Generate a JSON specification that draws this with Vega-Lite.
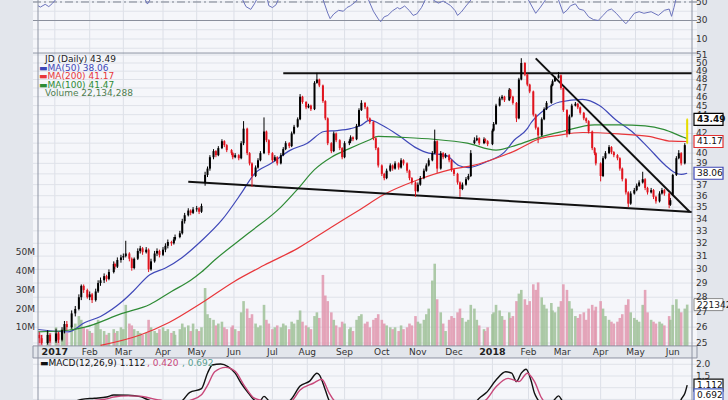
{
"$schema":"https://vega.github.io/schema/vega-lite/v6.json",
"width":664,"height":400,
"autosize":{"type":"none"},
"padding":{"left":33,"top":0,"right":31,"bottom":0},
"background":"#e3e6ec",
"config":{"view":{"fill":"#f5f6fa","stroke":null}},
"datasets":{
"mo":[{"d":"2017-01-03","t":"2017"},{"d":"2017-02-01","t":"Feb"},{"d":"2017-03-01","t":"Mar"},{"d":"2017-04-03","t":"Apr"},{"d":"2017-05-01","t":"May"},{"d":"2017-06-01","t":"Jun"},{"d":"2017-07-03","t":"Jul"},{"d":"2017-08-01","t":"Aug"},{"d":"2017-09-01","t":"Sep"},{"d":"2017-10-02","t":"Oct"},{"d":"2017-11-01","t":"Nov"},{"d":"2017-12-01","t":"Dec"},{"d":"2018-01-02","t":"2018"},{"d":"2018-02-01","t":"Feb"},{"d":"2018-03-01","t":"Mar"},{"d":"2018-04-02","t":"Apr"},{"d":"2018-05-01","t":"May"},{"d":"2018-06-01","t":"Jun"}],
"pt":[{"p":25},{"p":26},{"p":27},{"p":28},{"p":29},{"p":30},{"p":31},{"p":32},{"p":33},{"p":34},{"p":35},{"p":36},{"p":37},{"p":38},{"p":39},{"p":40},{"p":41},{"p":42},{"p":43},{"p":44},{"p":45},{"p":46},{"p":47},{"p":48},{"p":49},{"p":50},{"p":51}],
"vt":[{"v":10,"t":"10M"},{"v":20,"t":"20M"},{"v":30,"t":"30M"},{"v":40,"t":"40M"},{"v":50,"t":"50M"}],
"rg":[{"r":0},{"r":10},{"r":20},{"r":30},{"r":40},{"r":50}],
"rt":[{"r":10,"t":"10"},{"r":30,"t":"30"},{"r":50,"t":"50"}],
"mg":[{"m":0.5,"t":"0.5"},{"m":1,"t":"1.0"},{"m":1.5,"t":"1.5"},{"m":2,"t":"2.0"}],
"tl":[{"d":"2017-07-12","g":"r","p":48.75},{"d":"2018-06-17","g":"r","p":48.75},{"d":"2017-04-24","g":"s","p":37.27},{"d":"2018-06-17","g":"s","p":34.58},{"d":"2018-02-07","g":"t","p":50.58},{"d":"2018-06-15","g":"t","p":34.6}],
"lb":[{"k":"c","v":43.49},{"k":"r","v":41.17},{"k":"b","v":38.06}],
"vb":[{"v":22.134288}],
"mb":[{"k":"m","v":1.112},{"k":"h","v":0.692}],
"px":[
{"d":"2016-12-21","o":25.5,"h":25.7,"l":25.0,"c":25.3,"v":7},
{"d":"2016-12-23","o":25.3,"h":25.5,"l":24.9,"c":25.0,"v":6},
{"d":"2016-12-28","o":25.0,"h":25.8,"l":24.9,"c":25.5,"v":8},
{"d":"2016-12-30","o":25.5,"h":25.6,"l":25.0,"c":25.1,"v":7},
{"d":"2017-01-04","o":25.1,"h":25.9,"l":25.0,"c":25.6,"v":10},
{"d":"2017-01-06","o":25.6,"h":25.7,"l":25.0,"c":25.2,"v":8},
{"d":"2017-01-09","o":25.2,"h":26.0,"l":25.1,"c":25.8,"v":9},
{"d":"2017-01-11","o":25.8,"h":26.4,"l":25.6,"c":26.2,"v":10},
{"d":"2017-01-13","o":26.2,"h":26.4,"l":25.8,"c":26.0,"v":7},
{"d":"2017-01-17","o":26.0,"h":27.1,"l":25.9,"c":26.9,"v":11},
{"d":"2017-01-20","o":26.9,"h":27.4,"l":26.7,"c":27.2,"v":12},
{"d":"2017-01-23","o":27.2,"h":28.2,"l":27.1,"c":28.0,"v":16},
{"d":"2017-01-25","o":28.0,"h":28.9,"l":27.8,"c":28.8,"v":14},
{"d":"2017-01-27","o":28.8,"h":28.9,"l":28.3,"c":28.5,"v":10},
{"d":"2017-01-30","o":28.5,"h":28.6,"l":27.9,"c":28.0,"v":9},
{"d":"2017-02-01","o":28.0,"h":28.4,"l":27.8,"c":28.2,"v":8},
{"d":"2017-02-03","o":28.2,"h":28.3,"l":27.6,"c":27.8,"v":7},
{"d":"2017-02-06","o":27.8,"h":28.6,"l":27.7,"c":28.4,"v":12},
{"d":"2017-02-08","o":28.4,"h":29.2,"l":28.3,"c":29.0,"v":14},
{"d":"2017-02-10","o":29.0,"h":29.4,"l":28.8,"c":29.2,"v":9},
{"d":"2017-02-13","o":29.2,"h":29.7,"l":29.0,"c":29.5,"v":8},
{"d":"2017-02-15","o":29.5,"h":29.6,"l":29.1,"c":29.3,"v":6},
{"d":"2017-02-17","o":29.3,"h":30.0,"l":29.2,"c":29.8,"v":7},
{"d":"2017-02-21","o":29.8,"h":30.6,"l":29.7,"c":30.4,"v":9},
{"d":"2017-02-22","o":30.4,"h":30.5,"l":30.0,"c":30.2,"v":7},
{"d":"2017-02-24","o":30.2,"h":30.9,"l":30.1,"c":30.7,"v":8},
{"d":"2017-02-27","o":30.7,"h":31.1,"l":30.5,"c":30.9,"v":10},
{"d":"2017-03-01","o":30.9,"h":31.2,"l":30.7,"c":31.0,"v":9},
{"d":"2017-03-03","o":31.0,"h":32.2,"l":30.9,"c":31.2,"v":22},
{"d":"2017-03-06","o":31.2,"h":31.3,"l":30.6,"c":30.8,"v":12},
{"d":"2017-03-08","o":30.8,"h":30.9,"l":29.9,"c":30.1,"v":11},
{"d":"2017-03-10","o":30.1,"h":30.9,"l":30.0,"c":30.8,"v":9},
{"d":"2017-03-13","o":30.8,"h":31.6,"l":30.7,"c":31.4,"v":8},
{"d":"2017-03-15","o":31.4,"h":31.8,"l":31.2,"c":31.6,"v":7},
{"d":"2017-03-17","o":31.6,"h":31.7,"l":31.1,"c":31.3,"v":6},
{"d":"2017-03-20","o":31.3,"h":31.7,"l":31.2,"c":31.5,"v":7},
{"d":"2017-03-22","o":31.5,"h":31.6,"l":29.8,"c":30.0,"v":14},
{"d":"2017-03-24","o":30.0,"h":30.8,"l":29.9,"c":30.6,"v":10},
{"d":"2017-03-27","o":30.6,"h":31.4,"l":30.5,"c":31.2,"v":8},
{"d":"2017-03-29","o":31.2,"h":31.6,"l":31.0,"c":31.4,"v":7},
{"d":"2017-03-31","o":31.4,"h":31.5,"l":30.9,"c":31.1,"v":9},
{"d":"2017-04-03","o":31.1,"h":31.7,"l":31.0,"c":31.5,"v":10},
{"d":"2017-04-05","o":31.5,"h":32.0,"l":31.3,"c":31.8,"v":8},
{"d":"2017-04-07","o":31.8,"h":32.3,"l":31.6,"c":32.1,"v":9},
{"d":"2017-04-10","o":32.1,"h":32.2,"l":31.8,"c":32.0,"v":7},
{"d":"2017-04-12","o":32.0,"h":32.5,"l":31.9,"c":32.3,"v":8},
{"d":"2017-04-13","o":32.3,"h":32.7,"l":32.2,"c":32.5,"v":6},
{"d":"2017-04-17","o":32.5,"h":33.0,"l":32.4,"c":32.8,"v":9},
{"d":"2017-04-19","o":32.8,"h":34.0,"l":32.7,"c":33.8,"v":12},
{"d":"2017-04-21","o":33.8,"h":34.5,"l":33.6,"c":34.3,"v":10},
{"d":"2017-04-24","o":34.3,"h":34.9,"l":34.2,"c":34.7,"v":11},
{"d":"2017-04-26","o":34.7,"h":34.8,"l":34.3,"c":34.5,"v":8},
{"d":"2017-04-28","o":34.5,"h":35.0,"l":34.4,"c":34.8,"v":12},
{"d":"2017-05-01","o":34.8,"h":35.1,"l":34.6,"c":34.9,"v":9},
{"d":"2017-05-03","o":34.9,"h":35.0,"l":34.4,"c":34.6,"v":8},
{"d":"2017-05-05","o":34.6,"h":35.3,"l":34.5,"c":35.1,"v":10},
{"d":"2017-05-08","o":37.2,"h":38.2,"l":36.9,"c":37.9,"v":31},
{"d":"2017-05-10","o":37.9,"h":38.7,"l":37.7,"c":38.5,"v":17},
{"d":"2017-05-12","o":38.5,"h":39.8,"l":38.3,"c":39.6,"v":15},
{"d":"2017-05-15","o":39.6,"h":40.4,"l":39.4,"c":40.2,"v":14},
{"d":"2017-05-17","o":40.2,"h":40.3,"l":39.6,"c":39.8,"v":11},
{"d":"2017-05-19","o":39.8,"h":40.7,"l":39.7,"c":40.5,"v":12},
{"d":"2017-05-22","o":40.5,"h":41.4,"l":40.4,"c":41.2,"v":13},
{"d":"2017-05-24","o":41.2,"h":41.3,"l":40.6,"c":40.8,"v":10},
{"d":"2017-05-26","o":40.8,"h":40.9,"l":40.1,"c":40.3,"v":9},
{"d":"2017-05-30","o":40.3,"h":40.4,"l":39.8,"c":40.0,"v":10},
{"d":"2017-05-31","o":40.0,"h":40.1,"l":39.4,"c":39.6,"v":11},
{"d":"2017-06-02","o":39.6,"h":40.0,"l":39.5,"c":39.8,"v":9},
{"d":"2017-06-05","o":39.8,"h":39.9,"l":39.3,"c":39.5,"v":8},
{"d":"2017-06-07","o":39.5,"h":41.2,"l":39.4,"c":41.0,"v":18},
{"d":"2017-06-09","o":41.0,"h":43.3,"l":40.8,"c":42.5,"v":24},
{"d":"2017-06-12","o":42.5,"h":42.6,"l":39.8,"c":40.0,"v":20},
{"d":"2017-06-14","o":40.0,"h":40.1,"l":38.8,"c":39.0,"v":15},
{"d":"2017-06-16","o":39.0,"h":39.1,"l":36.8,"c":37.8,"v":17},
{"d":"2017-06-19","o":37.8,"h":38.8,"l":37.7,"c":38.6,"v":12},
{"d":"2017-06-21","o":38.6,"h":39.5,"l":38.5,"c":39.3,"v":10},
{"d":"2017-06-23","o":39.3,"h":40.2,"l":39.2,"c":40.0,"v":11},
{"d":"2017-06-26","o":40.0,"h":43.7,"l":39.9,"c":42.2,"v":22},
{"d":"2017-06-28","o":42.2,"h":42.3,"l":41.1,"c":41.3,"v":14},
{"d":"2017-06-30","o":41.3,"h":41.4,"l":39.8,"c":40.0,"v":12},
{"d":"2017-07-03","o":40.0,"h":40.1,"l":39.1,"c":39.3,"v":9},
{"d":"2017-07-05","o":39.3,"h":39.8,"l":39.2,"c":39.6,"v":10},
{"d":"2017-07-07","o":39.6,"h":39.7,"l":38.8,"c":39.0,"v":11},
{"d":"2017-07-10","o":39.0,"h":40.0,"l":38.9,"c":39.8,"v":10},
{"d":"2017-07-12","o":39.8,"h":40.6,"l":39.7,"c":40.4,"v":12},
{"d":"2017-07-14","o":40.4,"h":41.2,"l":40.3,"c":41.0,"v":11},
{"d":"2017-07-17","o":41.0,"h":41.1,"l":40.5,"c":40.7,"v":9},
{"d":"2017-07-19","o":40.7,"h":42.2,"l":40.6,"c":42.0,"v":13},
{"d":"2017-07-21","o":42.0,"h":42.9,"l":41.9,"c":42.7,"v":12},
{"d":"2017-07-24","o":42.7,"h":43.7,"l":42.6,"c":43.5,"v":14},
{"d":"2017-07-26","o":43.5,"h":46.3,"l":43.4,"c":46.0,"v":19},
{"d":"2017-07-28","o":46.0,"h":46.1,"l":45.2,"c":45.4,"v":13},
{"d":"2017-07-31","o":45.4,"h":45.5,"l":44.6,"c":44.8,"v":11},
{"d":"2017-08-02","o":44.8,"h":45.2,"l":44.7,"c":45.0,"v":10},
{"d":"2017-08-04","o":45.0,"h":45.1,"l":44.4,"c":44.6,"v":9},
{"d":"2017-08-07","o":44.6,"h":47.8,"l":44.5,"c":47.6,"v":16},
{"d":"2017-08-09","o":47.6,"h":48.8,"l":47.5,"c":48.0,"v":18},
{"d":"2017-08-11","o":48.0,"h":48.1,"l":47.1,"c":47.3,"v":15},
{"d":"2017-08-14","o":47.3,"h":47.4,"l":45.3,"c":45.5,"v":38},
{"d":"2017-08-16","o":45.5,"h":45.6,"l":43.4,"c":43.6,"v":27},
{"d":"2017-08-18","o":43.6,"h":43.7,"l":40.8,"c":41.0,"v":24},
{"d":"2017-08-21","o":41.0,"h":41.1,"l":40.0,"c":40.2,"v":18},
{"d":"2017-08-23","o":40.2,"h":42.2,"l":40.1,"c":42.0,"v":14},
{"d":"2017-08-25","o":42.0,"h":42.1,"l":41.1,"c":41.3,"v":11},
{"d":"2017-08-28","o":41.3,"h":41.4,"l":40.3,"c":40.5,"v":10},
{"d":"2017-08-30","o":40.5,"h":40.6,"l":39.4,"c":39.6,"v":13},
{"d":"2017-09-01","o":39.6,"h":41.2,"l":39.5,"c":41.0,"v":12},
{"d":"2017-09-05","o":41.0,"h":41.4,"l":40.8,"c":41.2,"v":9},
{"d":"2017-09-06","o":41.2,"h":41.8,"l":41.0,"c":41.6,"v":10},
{"d":"2017-09-08","o":41.6,"h":41.7,"l":41.2,"c":41.4,"v":8},
{"d":"2017-09-11","o":41.4,"h":43.0,"l":41.3,"c":42.8,"v":14},
{"d":"2017-09-13","o":42.8,"h":44.7,"l":42.7,"c":44.5,"v":16},
{"d":"2017-09-15","o":44.5,"h":45.6,"l":44.4,"c":45.3,"v":17},
{"d":"2017-09-18","o":45.3,"h":45.4,"l":44.6,"c":44.8,"v":12},
{"d":"2017-09-20","o":44.8,"h":44.9,"l":43.4,"c":43.6,"v":13},
{"d":"2017-09-22","o":43.6,"h":43.7,"l":43.0,"c":43.2,"v":10},
{"d":"2017-09-25","o":43.2,"h":43.3,"l":41.3,"c":41.5,"v":14},
{"d":"2017-09-27","o":41.5,"h":41.6,"l":40.3,"c":40.5,"v":15},
{"d":"2017-09-29","o":40.5,"h":40.6,"l":38.6,"c":38.8,"v":17},
{"d":"2017-10-02","o":38.8,"h":38.9,"l":37.8,"c":38.0,"v":14},
{"d":"2017-10-04","o":38.0,"h":38.1,"l":37.4,"c":37.6,"v":12},
{"d":"2017-10-06","o":37.6,"h":38.5,"l":37.5,"c":38.3,"v":11},
{"d":"2017-10-09","o":38.3,"h":39.0,"l":38.2,"c":38.8,"v":10},
{"d":"2017-10-11","o":38.8,"h":38.9,"l":38.3,"c":38.5,"v":9},
{"d":"2017-10-13","o":38.5,"h":39.2,"l":38.4,"c":39.0,"v":10},
{"d":"2017-10-16","o":39.0,"h":39.1,"l":38.4,"c":38.6,"v":8},
{"d":"2017-10-18","o":38.6,"h":39.5,"l":38.5,"c":39.3,"v":11},
{"d":"2017-10-20","o":39.3,"h":39.4,"l":38.8,"c":39.0,"v":9},
{"d":"2017-10-23","o":39.0,"h":39.1,"l":38.1,"c":38.3,"v":10},
{"d":"2017-10-25","o":38.3,"h":38.4,"l":37.4,"c":37.6,"v":12},
{"d":"2017-10-27","o":37.6,"h":37.7,"l":37.0,"c":37.2,"v":11},
{"d":"2017-10-30","o":37.2,"h":37.3,"l":35.9,"c":36.4,"v":16},
{"d":"2017-11-01","o":36.4,"h":37.2,"l":36.3,"c":37.0,"v":13},
{"d":"2017-11-03","o":37.0,"h":37.8,"l":36.9,"c":37.6,"v":12},
{"d":"2017-11-06","o":37.6,"h":38.5,"l":37.5,"c":38.3,"v":14},
{"d":"2017-11-08","o":38.3,"h":39.0,"l":38.2,"c":38.8,"v":17},
{"d":"2017-11-10","o":38.8,"h":39.5,"l":38.7,"c":39.3,"v":20},
{"d":"2017-11-13","o":39.3,"h":40.2,"l":39.2,"c":40.0,"v":35},
{"d":"2017-11-15","o":40.0,"h":42.4,"l":39.9,"c":41.2,"v":44},
{"d":"2017-11-17","o":41.2,"h":41.3,"l":38.1,"c":38.5,"v":25},
{"d":"2017-11-20","o":38.5,"h":40.2,"l":38.4,"c":40.0,"v":18},
{"d":"2017-11-22","o":40.0,"h":40.1,"l":39.4,"c":39.6,"v":12},
{"d":"2017-11-24","o":39.6,"h":40.0,"l":39.5,"c":39.8,"v":8},
{"d":"2017-11-27","o":39.8,"h":39.9,"l":39.1,"c":39.3,"v":14},
{"d":"2017-11-29","o":39.3,"h":39.4,"l":38.2,"c":38.4,"v":16},
{"d":"2017-12-01","o":38.4,"h":38.5,"l":37.8,"c":38.0,"v":15},
{"d":"2017-12-04","o":38.0,"h":38.1,"l":37.0,"c":37.2,"v":18},
{"d":"2017-12-06","o":37.2,"h":37.3,"l":35.9,"c":36.6,"v":20},
{"d":"2017-12-08","o":36.6,"h":37.2,"l":36.5,"c":37.0,"v":15},
{"d":"2017-12-11","o":37.0,"h":37.7,"l":36.9,"c":37.5,"v":13},
{"d":"2017-12-13","o":37.5,"h":38.0,"l":37.4,"c":37.8,"v":14},
{"d":"2017-12-15","o":37.8,"h":40.3,"l":37.7,"c":40.0,"v":22},
{"d":"2017-12-18","o":41.0,"h":41.6,"l":40.9,"c":41.3,"v":20},
{"d":"2017-12-20","o":41.3,"h":41.8,"l":41.2,"c":41.5,"v":14},
{"d":"2017-12-22","o":41.5,"h":41.6,"l":40.8,"c":41.0,"v":11},
{"d":"2017-12-26","o":41.0,"h":41.6,"l":40.9,"c":41.4,"v":9},
{"d":"2017-12-27","o":41.4,"h":41.5,"l":41.0,"c":41.2,"v":8},
{"d":"2017-12-29","o":41.2,"h":41.3,"l":40.7,"c":40.9,"v":10},
{"d":"2018-01-02","o":40.9,"h":42.5,"l":40.8,"c":42.3,"v":17},
{"d":"2018-01-03","o":42.3,"h":43.2,"l":42.2,"c":43.0,"v":18},
{"d":"2018-01-05","o":43.0,"h":45.2,"l":42.9,"c":45.0,"v":22},
{"d":"2018-01-08","o":45.0,"h":46.0,"l":44.9,"c":45.8,"v":19},
{"d":"2018-01-10","o":45.8,"h":46.2,"l":45.6,"c":46.0,"v":16},
{"d":"2018-01-12","o":46.0,"h":46.1,"l":45.4,"c":45.6,"v":14},
{"d":"2018-01-16","o":45.6,"h":47.0,"l":45.5,"c":46.8,"v":18},
{"d":"2018-01-17","o":46.8,"h":46.9,"l":45.8,"c":46.0,"v":15},
{"d":"2018-01-19","o":46.0,"h":46.1,"l":45.1,"c":45.3,"v":16},
{"d":"2018-01-22","o":45.3,"h":45.4,"l":43.2,"c":43.6,"v":24},
{"d":"2018-01-24","o":43.6,"h":48.2,"l":43.5,"c":48.0,"v":28},
{"d":"2018-01-26","o":48.0,"h":50.6,"l":47.9,"c":50.0,"v":30},
{"d":"2018-01-29","o":50.0,"h":50.1,"l":48.4,"c":48.6,"v":25},
{"d":"2018-01-31","o":48.6,"h":48.7,"l":47.2,"c":47.4,"v":22},
{"d":"2018-02-02","o":47.4,"h":47.5,"l":46.4,"c":46.6,"v":24},
{"d":"2018-02-05","o":46.6,"h":46.7,"l":43.8,"c":44.0,"v":33},
{"d":"2018-02-07","o":44.0,"h":44.1,"l":42.4,"c":42.6,"v":30},
{"d":"2018-02-09","o":42.6,"h":42.7,"l":41.0,"c":41.8,"v":34},
{"d":"2018-02-12","o":41.8,"h":43.7,"l":41.7,"c":43.5,"v":26},
{"d":"2018-02-14","o":43.5,"h":44.8,"l":43.4,"c":44.6,"v":22},
{"d":"2018-02-16","o":44.6,"h":45.5,"l":44.5,"c":45.3,"v":20},
{"d":"2018-02-20","o":45.3,"h":47.5,"l":45.2,"c":47.3,"v":23},
{"d":"2018-02-21","o":47.3,"h":48.0,"l":47.2,"c":47.8,"v":19},
{"d":"2018-02-23","o":47.8,"h":48.4,"l":47.7,"c":48.2,"v":18},
{"d":"2018-02-26","o":48.2,"h":48.9,"l":48.1,"c":48.5,"v":21},
{"d":"2018-02-28","o":48.5,"h":48.6,"l":46.8,"c":47.0,"v":24},
{"d":"2018-03-02","o":47.0,"h":47.1,"l":44.3,"c":44.5,"v":33},
{"d":"2018-03-05","o":44.5,"h":44.6,"l":41.6,"c":42.0,"v":30},
{"d":"2018-03-07","o":42.0,"h":44.0,"l":41.9,"c":43.8,"v":24},
{"d":"2018-03-09","o":43.8,"h":45.2,"l":43.7,"c":45.0,"v":20},
{"d":"2018-03-12","o":45.0,"h":45.4,"l":44.9,"c":45.2,"v":16},
{"d":"2018-03-14","o":45.2,"h":45.3,"l":44.6,"c":44.8,"v":15},
{"d":"2018-03-16","o":44.8,"h":44.9,"l":44.0,"c":44.2,"v":17},
{"d":"2018-03-19","o":44.2,"h":44.3,"l":43.4,"c":43.6,"v":18},
{"d":"2018-03-21","o":43.6,"h":43.7,"l":43.1,"c":43.3,"v":14},
{"d":"2018-03-23","o":43.3,"h":43.4,"l":42.0,"c":42.2,"v":20},
{"d":"2018-03-26","o":42.2,"h":42.3,"l":40.3,"c":40.5,"v":22},
{"d":"2018-03-28","o":40.5,"h":40.6,"l":39.8,"c":40.0,"v":19},
{"d":"2018-03-29","o":40.0,"h":40.1,"l":38.8,"c":39.0,"v":21},
{"d":"2018-04-02","o":39.0,"h":39.1,"l":37.3,"c":37.8,"v":24},
{"d":"2018-04-04","o":37.8,"h":39.7,"l":37.7,"c":39.5,"v":20},
{"d":"2018-04-06","o":39.5,"h":40.2,"l":39.4,"c":40.0,"v":16},
{"d":"2018-04-09","o":40.0,"h":40.8,"l":39.9,"c":40.6,"v":14},
{"d":"2018-04-11","o":40.6,"h":40.7,"l":39.9,"c":40.1,"v":13},
{"d":"2018-04-13","o":40.1,"h":40.2,"l":39.6,"c":39.8,"v":12},
{"d":"2018-04-16","o":39.8,"h":39.9,"l":39.3,"c":39.5,"v":13},
{"d":"2018-04-18","o":39.5,"h":39.6,"l":38.3,"c":38.5,"v":15},
{"d":"2018-04-20","o":38.5,"h":38.6,"l":37.3,"c":37.5,"v":17},
{"d":"2018-04-23","o":37.5,"h":37.6,"l":36.1,"c":36.3,"v":22},
{"d":"2018-04-25","o":36.3,"h":36.4,"l":35.0,"c":35.3,"v":25},
{"d":"2018-04-27","o":35.3,"h":36.4,"l":35.2,"c":36.2,"v":18},
{"d":"2018-04-30","o":36.2,"h":36.7,"l":36.1,"c":36.5,"v":15},
{"d":"2018-05-02","o":36.5,"h":37.1,"l":36.4,"c":36.9,"v":14},
{"d":"2018-05-04","o":36.9,"h":37.4,"l":36.8,"c":37.2,"v":13},
{"d":"2018-05-07","o":37.2,"h":38.2,"l":37.1,"c":37.5,"v":22},
{"d":"2018-05-09","o":37.5,"h":37.6,"l":36.5,"c":36.7,"v":30},
{"d":"2018-05-11","o":36.7,"h":36.8,"l":36.1,"c":36.3,"v":18},
{"d":"2018-05-14","o":36.3,"h":36.7,"l":36.2,"c":36.5,"v":14},
{"d":"2018-05-16","o":36.5,"h":36.6,"l":35.7,"c":35.9,"v":13},
{"d":"2018-05-18","o":35.9,"h":36.0,"l":35.3,"c":35.5,"v":12},
{"d":"2018-05-21","o":35.5,"h":36.4,"l":35.4,"c":36.2,"v":13},
{"d":"2018-05-23","o":36.2,"h":36.7,"l":36.1,"c":36.5,"v":12},
{"d":"2018-05-25","o":36.5,"h":36.6,"l":36.0,"c":36.2,"v":11},
{"d":"2018-05-29","o":36.2,"h":36.3,"l":34.9,"c":35.2,"v":16},
{"d":"2018-05-30","o":35.2,"h":35.8,"l":35.1,"c":35.6,"v":14},
{"d":"2018-06-01","o":36.1,"h":38.0,"l":36.0,"c":37.9,"v":22},
{"d":"2018-06-04","o":37.9,"h":39.7,"l":37.8,"c":39.5,"v":25},
{"d":"2018-06-06","o":39.5,"h":40.3,"l":39.4,"c":40.0,"v":20},
{"d":"2018-06-08","o":40.0,"h":40.1,"l":38.8,"c":39.0,"v":18},
{"d":"2018-06-11","o":39.0,"h":41.0,"l":38.9,"c":40.8,"v":20},
{"d":"2018-06-13","o":41.0,"h":43.6,"l":40.9,"c":43.49,"v":22.13}
],
"ma":[
{"d":"2016-12-20","s":"a","v":25.85},{"d":"2017-01-14","s":"a","v":25.7},{"d":"2017-01-28","s":"a","v":26.3},{"d":"2017-02-10","s":"a","v":26.7},{"d":"2017-02-28","s":"a","v":27.7},{"d":"2017-03-09","s":"a","v":28.4},{"d":"2017-03-23","s":"a","v":29.6},{"d":"2017-04-05","s":"a","v":30.1},{"d":"2017-04-19","s":"a","v":30.9},{"d":"2017-05-05","s":"a","v":32.2},{"d":"2017-05-22","s":"a","v":33.9},{"d":"2017-06-07","s":"a","v":36.2},{"d":"2017-06-18","s":"a","v":38.0},{"d":"2017-07-02","s":"a","v":39.0},{"d":"2017-07-18","s":"a","v":40.3},{"d":"2017-08-01","s":"a","v":41.0},{"d":"2017-08-15","s":"a","v":42.2},{"d":"2017-08-26","s":"a","v":42.3},{"d":"2017-09-06","s":"a","v":42.5},{"d":"2017-09-14","s":"a","v":42.8},{"d":"2017-09-22","s":"a","v":43.4},{"d":"2017-10-03","s":"a","v":42.8},{"d":"2017-10-17","s":"a","v":41.7},{"d":"2017-10-31","s":"a","v":40.5},{"d":"2017-11-10","s":"a","v":40.0},{"d":"2017-11-24","s":"a","v":39.8},{"d":"2017-12-05","s":"a","v":38.8},{"d":"2017-12-13","s":"a","v":38.6},{"d":"2017-12-29","s":"a","v":39.2},{"d":"2018-01-12","s":"a","v":40.1},{"d":"2018-01-20","s":"a","v":41.3},{"d":"2018-01-31","s":"a","v":42.5},{"d":"2018-02-03","s":"a","v":43.1},{"d":"2018-02-14","s":"a","v":44.5},{"d":"2018-02-27","s":"a","v":45.4},{"d":"2018-03-18","s":"a","v":45.7},{"d":"2018-04-01","s":"a","v":45.0},{"d":"2018-04-15","s":"a","v":43.4},{"d":"2018-04-28","s":"a","v":42.2},{"d":"2018-05-12","s":"a","v":40.5},{"d":"2018-05-26","s":"a","v":38.8},{"d":"2018-06-03","s":"a","v":38.1},{"d":"2018-06-08","s":"a","v":37.95},{"d":"2018-06-13","s":"a","v":38.06},
{"d":"2016-12-20","s":"b","v":25.7},{"d":"2017-01-14","s":"b","v":25.8},{"d":"2017-01-28","s":"b","v":26.0},{"d":"2017-02-28","s":"b","v":26.9},{"d":"2017-03-23","s":"b","v":27.5},{"d":"2017-04-10","s":"b","v":28.4},{"d":"2017-04-26","s":"b","v":29.2},{"d":"2017-05-05","s":"b","v":29.8},{"d":"2017-05-16","s":"b","v":30.7},{"d":"2017-06-13","s":"b","v":32.8},{"d":"2017-07-10","s":"b","v":35.0},{"d":"2017-07-24","s":"b","v":36.6},{"d":"2017-08-07","s":"b","v":38.4},{"d":"2017-08-21","s":"b","v":39.6},{"d":"2017-09-04","s":"b","v":40.4},{"d":"2017-09-21","s":"b","v":41.3},{"d":"2017-09-29","s":"b","v":41.7},{"d":"2017-10-18","s":"b","v":41.6},{"d":"2017-11-14","s":"b","v":41.4},{"d":"2017-12-12","s":"b","v":41.0},{"d":"2018-01-05","s":"b","v":40.3},{"d":"2018-01-22","s":"b","v":40.8},{"d":"2018-02-10","s":"b","v":41.6},{"d":"2018-03-01","s":"b","v":42.2},{"d":"2018-03-28","s":"b","v":42.9},{"d":"2018-04-17","s":"b","v":42.9},{"d":"2018-05-09","s":"b","v":42.8},{"d":"2018-05-25","s":"b","v":42.4},{"d":"2018-06-10","s":"b","v":41.6},{"d":"2018-06-13","s":"b","v":41.47},
{"d":"2017-02-10","s":"c","v":24.85},{"d":"2017-03-15","s":"c","v":25.5},{"d":"2017-04-08","s":"c","v":26.3},{"d":"2017-05-05","s":"c","v":27.6},{"d":"2017-06-01","s":"c","v":29.1},{"d":"2017-06-26","s":"c","v":30.3},{"d":"2017-07-24","s":"c","v":31.6},{"d":"2017-08-21","s":"c","v":33.3},{"d":"2017-09-14","s":"c","v":34.8},{"d":"2017-10-03","s":"c","v":36.06},{"d":"2017-10-31","s":"c","v":37.4},{"d":"2017-11-28","s":"c","v":38.4},{"d":"2017-12-17","s":"c","v":38.8},{"d":"2018-01-05","s":"c","v":39.5},{"d":"2018-01-22","s":"c","v":40.3},{"d":"2018-02-02","s":"c","v":41.0},{"d":"2018-02-07","s":"c","v":41.3},{"d":"2018-02-26","s":"c","v":41.8},{"d":"2018-03-18","s":"c","v":42.1},{"d":"2018-04-17","s":"c","v":41.95},{"d":"2018-05-12","s":"c","v":41.7},{"d":"2018-05-31","s":"c","v":41.2},{"d":"2018-06-13","s":"c","v":41.17}
],
"rsi":[
{"d":"2016-12-20","r":46},{"d":"2016-12-22","r":44.5},{"d":"2016-12-26","r":47.5},{"d":"2016-12-29","r":45},{"d":"2017-01-01","r":48.5},{"d":"2017-01-04","r":53},{"d":"2017-01-08","r":60},{"d":"2017-02-01","r":70},{"d":"2017-03-01","r":66},{"d":"2017-03-15","r":58},{"d":"2017-03-19","r":53},{"d":"2017-03-21","r":47.8},{"d":"2017-03-24","r":54},{"d":"2017-04-05","r":60},{"d":"2017-04-25","r":70},{"d":"2017-05-10","r":78},{"d":"2017-06-05","r":60},{"d":"2017-06-08","r":53},{"d":"2017-06-11","r":45},{"d":"2017-06-15","r":42},{"d":"2017-06-18","r":48},{"d":"2017-06-20","r":53},{"d":"2017-06-24","r":58},{"d":"2017-06-29","r":52},{"d":"2017-06-30","r":46},{"d":"2017-07-03","r":44},{"d":"2017-07-06","r":47},{"d":"2017-07-08","r":53},{"d":"2017-07-20","r":62},{"d":"2017-08-09","r":70},{"d":"2017-08-14","r":53},{"d":"2017-08-18","r":38},{"d":"2017-08-20","r":32},{"d":"2017-08-23","r":37},{"d":"2017-08-27","r":41},{"d":"2017-08-31","r":40},{"d":"2017-09-03","r":44},{"d":"2017-09-06","r":46},{"d":"2017-09-10","r":50},{"d":"2017-09-12","r":53},{"d":"2017-09-15","r":58},{"d":"2017-09-19","r":56},{"d":"2017-09-21","r":52},{"d":"2017-09-25","r":40},{"d":"2017-09-29","r":31.7},{"d":"2017-10-01","r":28.7},{"d":"2017-10-04","r":34},{"d":"2017-10-07","r":35.5},{"d":"2017-10-11","r":40.6},{"d":"2017-10-15","r":44},{"d":"2017-10-17","r":42.4},{"d":"2017-10-21","r":45.7},{"d":"2017-10-25","r":40.6},{"d":"2017-10-28","r":35.5},{"d":"2017-10-31","r":37},{"d":"2017-11-04","r":44},{"d":"2017-11-07","r":52},{"d":"2017-11-10","r":56},{"d":"2017-11-14","r":52},{"d":"2017-11-18","r":48.8},{"d":"2017-11-22","r":51},{"d":"2017-11-28","r":46.3},{"d":"2017-12-02","r":40.6},{"d":"2017-12-04","r":35.5},{"d":"2017-12-07","r":39},{"d":"2017-12-11","r":45.7},{"d":"2017-12-15","r":52},{"d":"2017-12-20","r":62},{"d":"2018-01-10","r":70},{"d":"2018-01-26","r":72},{"d":"2018-02-01","r":52},{"d":"2018-02-07","r":37.8},{"d":"2018-02-11","r":44.5},{"d":"2018-02-15","r":52},{"d":"2018-02-21","r":60},{"d":"2018-02-26","r":52},{"d":"2018-03-02","r":37.8},{"d":"2018-03-05","r":41},{"d":"2018-03-08","r":46},{"d":"2018-03-12","r":48},{"d":"2018-03-15","r":42.4},{"d":"2018-03-19","r":41},{"d":"2018-03-23","r":34},{"d":"2018-03-27","r":31},{"d":"2018-03-31","r":30},{"d":"2018-04-04","r":35.5},{"d":"2018-04-08","r":41},{"d":"2018-04-11","r":42.4},{"d":"2018-04-15","r":37.8},{"d":"2018-04-19","r":32},{"d":"2018-04-23","r":26.5},{"d":"2018-04-26","r":31},{"d":"2018-04-30","r":37.8},{"d":"2018-05-04","r":39.5},{"d":"2018-05-08","r":37.8},{"d":"2018-05-14","r":39.5},{"d":"2018-05-20","r":35.5},{"d":"2018-05-25","r":41},{"d":"2018-05-29","r":42.4},{"d":"2018-05-31","r":34.5},{"d":"2018-06-02","r":44},{"d":"2018-06-04","r":55},{"d":"2018-06-13","r":68}
],
"macd":[
{"d":"2016-12-20","s":"m","v":-0.3},{"d":"2017-01-11","s":"m","v":0.2},{"d":"2017-01-25","s":"m","v":0.5},{"d":"2017-02-05","s":"m","v":0.55},{"d":"2017-02-15","s":"m","v":0.6},{"d":"2017-02-21","s":"m","v":0.69},{"d":"2017-03-05","s":"m","v":0.68},{"d":"2017-03-15","s":"m","v":0.62},{"d":"2017-03-21","s":"m","v":0.5},{"d":"2017-03-30","s":"m","v":0.35},{"d":"2017-04-11","s":"m","v":0.3},{"d":"2017-04-19","s":"m","v":0.45},{"d":"2017-04-25","s":"m","v":0.79},{"d":"2017-05-05","s":"m","v":0.96},{"d":"2017-05-10","s":"m","v":1.62},{"d":"2017-05-14","s":"m","v":1.97},{"d":"2017-05-21","s":"m","v":2.01},{"d":"2017-05-27","s":"m","v":1.9},{"d":"2017-06-02","s":"m","v":1.62},{"d":"2017-06-07","s":"m","v":1.19},{"d":"2017-06-13","s":"m","v":0.77},{"d":"2017-06-18","s":"m","v":0.47},{"d":"2017-06-22","s":"m","v":0.4},{"d":"2017-06-26","s":"m","v":0.63},{"d":"2017-06-30","s":"m","v":0.45},{"d":"2017-07-10","s":"m","v":0.3},{"d":"2017-07-18","s":"m","v":0.47},{"d":"2017-07-26","s":"m","v":1.07},{"d":"2017-08-03","s":"m","v":1.28},{"d":"2017-08-09","s":"m","v":1.62},{"d":"2017-08-11","s":"m","v":1.55},{"d":"2017-08-16","s":"m","v":0.9},{"d":"2017-08-19","s":"m","v":0.47},{"d":"2017-08-24","s":"m","v":0.2},{"d":"2017-09-10","s":"m","v":-0.2},{"d":"2017-10-15","s":"m","v":-0.8},{"d":"2017-11-15","s":"m","v":-0.5},{"d":"2017-12-10","s":"m","v":-0.2},{"d":"2017-12-22","s":"m","v":0.55},{"d":"2017-12-28","s":"m","v":0.79},{"d":"2018-01-05","s":"m","v":1.33},{"d":"2018-01-13","s":"m","v":1.68},{"d":"2018-01-18","s":"m","v":1.62},{"d":"2018-01-22","s":"m","v":1.26},{"d":"2018-01-26","s":"m","v":1.62},{"d":"2018-01-30","s":"m","v":1.79},{"d":"2018-02-03","s":"m","v":1.33},{"d":"2018-02-06","s":"m","v":0.76},{"d":"2018-02-09","s":"m","v":0.47},{"d":"2018-02-12","s":"m","v":0.2},{"d":"2018-02-19","s":"m","v":0.3},{"d":"2018-02-22","s":"m","v":0.45},{"d":"2018-02-26","s":"m","v":0.65},{"d":"2018-03-01","s":"m","v":0.45},{"d":"2018-03-06","s":"m","v":0.2},{"d":"2018-04-05","s":"m","v":-0.8},{"d":"2018-05-05","s":"m","v":-1.0},{"d":"2018-05-30","s":"m","v":-0.6},{"d":"2018-06-06","s":"m","v":0.2},{"d":"2018-06-08","s":"m","v":0.5},{"d":"2018-06-11","s":"m","v":0.75},{"d":"2018-06-13","s":"m","v":1.112},
{"d":"2016-12-20","s":"g","v":-0.3},{"d":"2017-01-11","s":"g","v":0.0},{"d":"2017-01-25","s":"g","v":0.35},{"d":"2017-02-05","s":"g","v":0.45},{"d":"2017-02-15","s":"g","v":0.52},{"d":"2017-02-21","s":"g","v":0.6},{"d":"2017-03-05","s":"g","v":0.65},{"d":"2017-03-15","s":"g","v":0.64},{"d":"2017-03-21","s":"g","v":0.58},{"d":"2017-03-30","s":"g","v":0.48},{"d":"2017-04-11","s":"g","v":0.38},{"d":"2017-04-19","s":"g","v":0.36},{"d":"2017-04-25","s":"g","v":0.45},{"d":"2017-05-05","s":"g","v":0.7},{"d":"2017-05-10","s":"g","v":1.1},{"d":"2017-05-16","s":"g","v":1.68},{"d":"2017-05-25","s":"g","v":1.87},{"d":"2017-06-02","s":"g","v":1.7},{"d":"2017-06-10","s":"g","v":1.06},{"d":"2017-06-18","s":"g","v":0.55},{"d":"2017-06-25","s":"g","v":0.45},{"d":"2017-07-07","s":"g","v":0.35},{"d":"2017-07-18","s":"g","v":0.4},{"d":"2017-07-26","s":"g","v":0.9},{"d":"2017-08-06","s":"g","v":1.19},{"d":"2017-08-13","s":"g","v":1.36},{"d":"2017-08-19","s":"g","v":0.79},{"d":"2017-08-23","s":"g","v":0.47},{"d":"2017-08-29","s":"g","v":0.3},{"d":"2017-09-15","s":"g","v":-0.1},{"d":"2017-10-20","s":"g","v":-0.6},{"d":"2017-11-20","s":"g","v":-0.4},{"d":"2017-12-15","s":"g","v":0.0},{"d":"2017-12-22","s":"g","v":0.3},{"d":"2017-12-28","s":"g","v":0.5},{"d":"2018-01-05","s":"g","v":1.04},{"d":"2018-01-15","s":"g","v":1.4},{"d":"2018-01-24","s":"g","v":1.26},{"d":"2018-01-31","s":"g","v":1.62},{"d":"2018-02-06","s":"g","v":1.26},{"d":"2018-02-12","s":"g","v":0.55},{"d":"2018-02-17","s":"g","v":0.3},{"d":"2018-02-26","s":"g","v":0.4},{"d":"2018-03-06","s":"g","v":0.3},{"d":"2018-04-05","s":"g","v":-0.5},{"d":"2018-05-05","s":"g","v":-0.9},{"d":"2018-06-01","s":"g","v":-0.3},{"d":"2018-06-13","s":"g","v":0.42}
]
},
"resolve":{"scale":{"y":"independent"},"axis":{"y":"independent"}},
"layer":[
 {"data":{"name":"mo"},"mark":{"type":"rule","color":"#dcdfe7"},
  "encoding":{"x":{"field":"d","type":"temporal","scale":{"domain":[1482192000000,1529193600000]},"axis":null}}},
 {"data":{"name":"pt"},"mark":{"type":"rule","color":"#dfe2e9"},
  "encoding":{"y":{"field":"p","type":"quantitative","scale":{"type":"log","domain":[21.71,58.44],"nice":false},"axis":null}}},
 {"data":{"name":"rg"},"mark":{"type":"rule","color":"#dfe2e9"},
  "encoding":{"y":{"field":"r","type":"quantitative","scale":{"domain":[-380.27,52.16],"nice":false,"zero":false},"axis":null}}},
 {"data":{"name":"mg"},"mark":{"type":"rule","color":"#dfe2e9"},
  "encoding":{"y":{"field":"m","type":"quantitative","scale":{"domain":[0.474,17.568],"nice":false,"zero":false},"axis":null}}},
 {"layer":[
  {"data":{"name":"px"},"mark":{"type":"bar","size":2.6,"opacity":0.85},
   "encoding":{"x":{"field":"d","type":"temporal","axis":null},
    "y":{"field":"v","type":"quantitative","scale":{"domain":[-28.88,185.03],"nice":false,"zero":false},"axis":null},
    "y2":{"datum":0},
    "color":{"condition":{"test":"datum.c >= datum.o","value":"#9fc198"},"value":"#e097ae"}}},
  {"data":{"name":"vt"},"mark":{"type":"text","align":"right","baseline":"middle","dx":-3,"color":"#333333","font":"DejaVu Sans","fontSize":9},
   "encoding":{"x":{"datum":1482192000000,"type":"temporal","axis":null},
    "y":{"field":"v","type":"quantitative","scale":{"domain":[-28.88,185.03],"nice":false,"zero":false},"axis":null},"text":{"field":"t"}}},
  {"data":{"name":"vb"},"mark":{"type":"rect","fill":"#ffffff","stroke":"#8a8a8a","xOffset":2,"x2Offset":31,"yOffset":-6,"y2Offset":6},
   "encoding":{"x":{"datum":1529193600000,"type":"temporal","axis":null},"x2":{"datum":1529193600000},
    "y":{"field":"v","type":"quantitative","scale":{"domain":[-28.88,185.03],"nice":false,"zero":false},"axis":null},"y2":{"field":"v"}}},
  {"data":{"name":"vb"},"mark":{"type":"text","align":"left","baseline":"middle","dx":5,"color":"#222222","font":"DejaVu Sans","fontSize":9},
   "encoding":{"x":{"datum":1529193600000,"type":"temporal","axis":null},
    "y":{"field":"v","type":"quantitative","scale":{"domain":[-28.88,185.03],"nice":false,"zero":false},"axis":null},"text":{"value":"22134288"}}}
 ]},
 {"layer":[
  {"data":{"name":"pt"},"transform":[{"filter":"datum.p != 38 && datum.p != 41 && datum.p != 43"}],"mark":{"type":"text","align":"left","baseline":"middle","dx":4,"color":"#333333","font":"DejaVu Sans","fontSize":9},
   "encoding":{"x":{"datum":1529193600000,"type":"temporal","axis":null},
    "y":{"field":"p","type":"quantitative","scale":{"type":"log","domain":[21.71,58.44],"nice":false},"axis":null},"text":{"field":"p","type":"quantitative","format":"d"}}},
  {"data":{"values":[{}]},"mark":{"type":"rect","fill":"#e3e6ec","stroke":"#8e94a3","strokeWidth":1},
   "encoding":{"y":{"datum":24.82,"type":"quantitative","scale":{"type":"log","domain":[21.71,58.44],"nice":false},"axis":null},"y2":{"datum":24.09}}},
  {"data":{"values":[{}]},"mark":{"type":"rule","color":"#8e94a3"},
   "encoding":{"y":{"datum":51.25,"type":"quantitative","scale":{"type":"log","domain":[21.71,58.44],"nice":false},"axis":null}}},
  {"data":{"name":"ma"},"mark":{"type":"line","strokeWidth":1.2,"interpolate":"monotone"},
   "encoding":{"x":{"field":"d","type":"temporal","axis":null},
    "y":{"field":"v","type":"quantitative","scale":{"type":"log","domain":[21.71,58.44],"nice":false},"axis":null},
    "detail":{"field":"s"},
    "color":{"condition":[{"test":"datum.s=='a'","value":"#3f48b8"},{"test":"datum.s=='b'","value":"#2e8b35"}],"value":"#e8363a"}}},
  {"data":{"name":"tl"},"mark":{"type":"line","color":"#111111","strokeWidth":2},
   "encoding":{"x":{"field":"d","type":"temporal","axis":null},
    "y":{"field":"p","type":"quantitative","scale":{"type":"log","domain":[21.71,58.44],"nice":false},"axis":null},"detail":{"field":"g"}}},
  {"data":{"name":"px"},"mark":{"type":"rule","strokeWidth":1},
   "encoding":{"x":{"field":"d","type":"temporal","axis":null},
    "y":{"field":"l","type":"quantitative","scale":{"type":"log","domain":[21.71,58.44],"nice":false},"axis":null},
    "y2":{"field":"h"},
    "color":{"condition":[{"test":"datum.c == 43.49","value":"#e6dc00"},{"test":"datum.c >= datum.o","value":"#000000"}],"value":"#e0141e"}}},
  {"data":{"name":"px"},"mark":{"type":"rule","strokeWidth":2},
   "encoding":{"x":{"field":"d","type":"temporal","axis":null},
    "y":{"field":"o","type":"quantitative","scale":{"type":"log","domain":[21.71,58.44],"nice":false},"axis":null},
    "y2":{"field":"c"},
    "color":{"condition":[{"test":"datum.c == 43.49","value":"#e6dc00"},{"test":"datum.c >= datum.o","value":"#000000"}],"value":"#e0141e"}}},
  {"data":{"name":"mo"},"transform":[{"filter":"length(datum.t) != 4"}],"mark":{"type":"text","align":"center","baseline":"middle","color":"#333333","font":"DejaVu Sans","fontSize":9},
   "encoding":{"x":{"field":"d","type":"temporal","axis":null},
    "y":{"datum":24.45,"type":"quantitative","scale":{"type":"log","domain":[21.71,58.44],"nice":false},"axis":null},"text":{"field":"t"}}},
  {"data":{"name":"mo"},"transform":[{"filter":"length(datum.t) == 4"}],"mark":{"type":"text","align":"center","baseline":"middle","color":"#222222","font":"DejaVu Sans","fontSize":9.5,"fontWeight":"bold"},
   "encoding":{"x":{"field":"d","type":"temporal","axis":null},
    "y":{"datum":24.45,"type":"quantitative","scale":{"type":"log","domain":[21.71,58.44],"nice":false},"axis":null},"text":{"field":"t"}}},
  {"data":{"values":[{}]},"mark":{"type":"text","align":"left","baseline":"middle","dx":7,"color":"#222222","font":"DejaVu Sans","fontSize":9},
   "encoding":{"x":{"datum":1482192000000,"type":"temporal","axis":null},"y":{"datum":50.5,"type":"quantitative","scale":{"type":"log","domain":[21.71,58.44],"nice":false},"axis":null},"text":{"value":"JD (Daily) 43.49"}}},
  {"data":{"values":[{}]},"mark":{"type":"text","align":"left","baseline":"middle","dx":1,"color":"#3f48b8","font":"DejaVu Sans","fontSize":9},
   "encoding":{"x":{"datum":1482192000000,"type":"temporal","axis":null},"y":{"datum":49.39,"type":"quantitative","scale":{"type":"log","domain":[21.71,58.44],"nice":false},"axis":null},"text":{"value":"▬MA(50) 38.06"}}},
  {"data":{"values":[{}]},"mark":{"type":"text","align":"left","baseline":"middle","dx":1,"color":"#e8363a","font":"DejaVu Sans","fontSize":9},
   "encoding":{"x":{"datum":1482192000000,"type":"temporal","axis":null},"y":{"datum":48.36,"type":"quantitative","scale":{"type":"log","domain":[21.71,58.44],"nice":false},"axis":null},"text":{"value":"▬MA(200) 41.17"}}},
  {"data":{"values":[{}]},"mark":{"type":"text","align":"left","baseline":"middle","dx":1,"color":"#2e8b35","font":"DejaVu Sans","fontSize":9},
   "encoding":{"x":{"datum":1482192000000,"type":"temporal","axis":null},"y":{"datum":47.35,"type":"quantitative","scale":{"type":"log","domain":[21.71,58.44],"nice":false},"axis":null},"text":{"value":"▬MA(100) 41.47"}}},
  {"data":{"values":[{}]},"mark":{"type":"text","align":"left","baseline":"middle","dx":7,"color":"#4f7d4f","font":"DejaVu Sans","fontSize":9},
   "encoding":{"x":{"datum":1482192000000,"type":"temporal","axis":null},"y":{"datum":46.37,"type":"quantitative","scale":{"type":"log","domain":[21.71,58.44],"nice":false},"axis":null},"text":{"value":"Volume 22,134,288"}}},
  {"data":{"name":"lb"},"mark":{"type":"rect","fill":"#ffffff","strokeWidth":1.2,"xOffset":2,"x2Offset":31,"yOffset":-6,"y2Offset":6},
   "encoding":{"x":{"datum":1529193600000,"type":"temporal","axis":null},"x2":{"datum":1529193600000},
    "y":{"field":"v","type":"quantitative","scale":{"type":"log","domain":[21.71,58.44],"nice":false},"axis":null},"y2":{"field":"v"},
    "stroke":{"condition":[{"test":"datum.k=='c'","value":"#000000"},{"test":"datum.k=='r'","value":"#e03030"}],"value":"#3d45b5"}}},
  {"data":{"name":"lb"},"transform":[{"filter":"datum.k=='c'"}],"mark":{"type":"text","align":"left","baseline":"middle","dx":5,"color":"#111111","fontWeight":"bold","font":"DejaVu Sans","fontSize":9},
   "encoding":{"x":{"datum":1529193600000,"type":"temporal","axis":null},
    "y":{"field":"v","type":"quantitative","scale":{"type":"log","domain":[21.71,58.44],"nice":false},"axis":null},"text":{"field":"v","type":"quantitative","format":".2f"}}},
  {"data":{"name":"lb"},"transform":[{"filter":"datum.k!='c'"}],"mark":{"type":"text","align":"left","baseline":"middle","dx":5,"color":"#111111","font":"DejaVu Sans","fontSize":9},
   "encoding":{"x":{"datum":1529193600000,"type":"temporal","axis":null},
    "y":{"field":"v","type":"quantitative","scale":{"type":"log","domain":[21.71,58.44],"nice":false},"axis":null},"text":{"field":"v","type":"quantitative","format":".2f"}}}
 ]},
 {"layer":[
  {"data":{"values":[{}]},"mark":{"type":"rule","color":"#8a8f9c","strokeWidth":1.2},
   "encoding":{"y":{"datum":30,"type":"quantitative","scale":{"domain":[-380.27,52.16],"nice":false,"zero":false},"axis":null}}},
  {"data":{"values":[{}]},"mark":{"type":"rule","color":"#7a7f8c","strokeDash":[8,3,2,3]},
   "encoding":{"y":{"datum":50,"type":"quantitative","scale":{"domain":[-380.27,52.16],"nice":false,"zero":false},"axis":null}}},
  {"data":{"name":"rsi"},"mark":{"type":"line","color":"#6c74bd","strokeWidth":1},
   "encoding":{"x":{"field":"d","type":"temporal","axis":null},
    "y":{"field":"r","type":"quantitative","scale":{"domain":[-380.27,52.16],"nice":false,"zero":false},"axis":null}}},
  {"data":{"name":"rt"},"mark":{"type":"text","align":"left","baseline":"middle","dx":4,"color":"#333333","font":"DejaVu Sans","fontSize":9},
   "encoding":{"x":{"datum":1529193600000,"type":"temporal","axis":null},
    "y":{"field":"r","type":"quantitative","scale":{"domain":[-380.27,52.16],"nice":false,"zero":false},"axis":null},"text":{"field":"t"}}}
 ]},
 {"layer":[
  {"data":{"name":"mg"},"transform":[{"filter":"datum.m >= 1.5"}],"mark":{"type":"text","align":"left","baseline":"middle","dx":4,"color":"#333333","font":"DejaVu Sans","fontSize":9},
   "encoding":{"x":{"datum":1529193600000,"type":"temporal","axis":null},
    "y":{"field":"m","type":"quantitative","scale":{"domain":[0.474,17.568],"nice":false,"zero":false},"axis":null},"text":{"field":"t"}}},
  {"data":{"name":"macd"},"mark":{"type":"line","strokeWidth":1.4,"interpolate":"monotone"},
   "encoding":{"x":{"field":"d","type":"temporal","axis":null},
    "y":{"field":"v","type":"quantitative","scale":{"domain":[0.474,17.568],"nice":false,"zero":false},"axis":null},
    "detail":{"field":"s"},
    "color":{"condition":{"test":"datum.s=='m'","value":"#111111"},"value":"#c8487a"}}},
  {"data":{"values":[{}]},"mark":{"type":"text","align":"left","baseline":"middle","dx":2,"color":"#111111","font":"DejaVu Sans","fontSize":9},
   "encoding":{"x":{"datum":1482192000000,"type":"temporal","axis":null},"y":{"datum":2.034,"type":"quantitative","scale":{"domain":[0.474,17.568],"nice":false,"zero":false},"axis":null},"text":{"value":"▬MACD(12,26,9) 1.112"}}},
  {"data":{"values":[{}]},"mark":{"type":"text","align":"left","baseline":"middle","dx":109,"color":"#c8487a","font":"DejaVu Sans","fontSize":9},
   "encoding":{"x":{"datum":1482192000000,"type":"temporal","axis":null},"y":{"datum":2.034,"type":"quantitative","scale":{"domain":[0.474,17.568],"nice":false,"zero":false},"axis":null},"text":{"value":", 0.420"}}},
  {"data":{"values":[{}]},"mark":{"type":"text","align":"left","baseline":"middle","dx":144,"color":"#5aa090","font":"DejaVu Sans","fontSize":9},
   "encoding":{"x":{"datum":1482192000000,"type":"temporal","axis":null},"y":{"datum":2.034,"type":"quantitative","scale":{"domain":[0.474,17.568],"nice":false,"zero":false},"axis":null},"text":{"value":", 0.692"}}},
  {"data":{"name":"mb"},"mark":{"type":"rect","fill":"#ffffff","strokeWidth":1.2,"xOffset":2,"x2Offset":31,"yOffset":-6,"y2Offset":6},
   "encoding":{"x":{"datum":1529193600000,"type":"temporal","axis":null},"x2":{"datum":1529193600000},
    "y":{"field":"v","type":"quantitative","scale":{"domain":[0.474,17.568],"nice":false,"zero":false},"axis":null},"y2":{"field":"v"},
    "stroke":{"condition":{"test":"datum.k=='m'","value":"#111111"},"value":"#4a5fc0"}}},
  {"data":{"name":"mb"},"mark":{"type":"text","align":"left","baseline":"middle","dx":5,"color":"#111111","font":"DejaVu Sans","fontSize":9},
   "encoding":{"x":{"datum":1529193600000,"type":"temporal","axis":null},
    "y":{"field":"v","type":"quantitative","scale":{"domain":[0.474,17.568],"nice":false,"zero":false},"axis":null},"text":{"field":"v","type":"quantitative","format":".3f"}}}
 ]},
 {"data":{"values":[{}]},"mark":{"type":"rule","color":"#8e94a3"},
  "encoding":{"x":{"datum":1482192000000,"type":"temporal","axis":null}}},
 {"data":{"values":[{}]},"mark":{"type":"rule","color":"#8e94a3"},
  "encoding":{"x":{"datum":1529193600000,"type":"temporal","axis":null}}}
]
}
